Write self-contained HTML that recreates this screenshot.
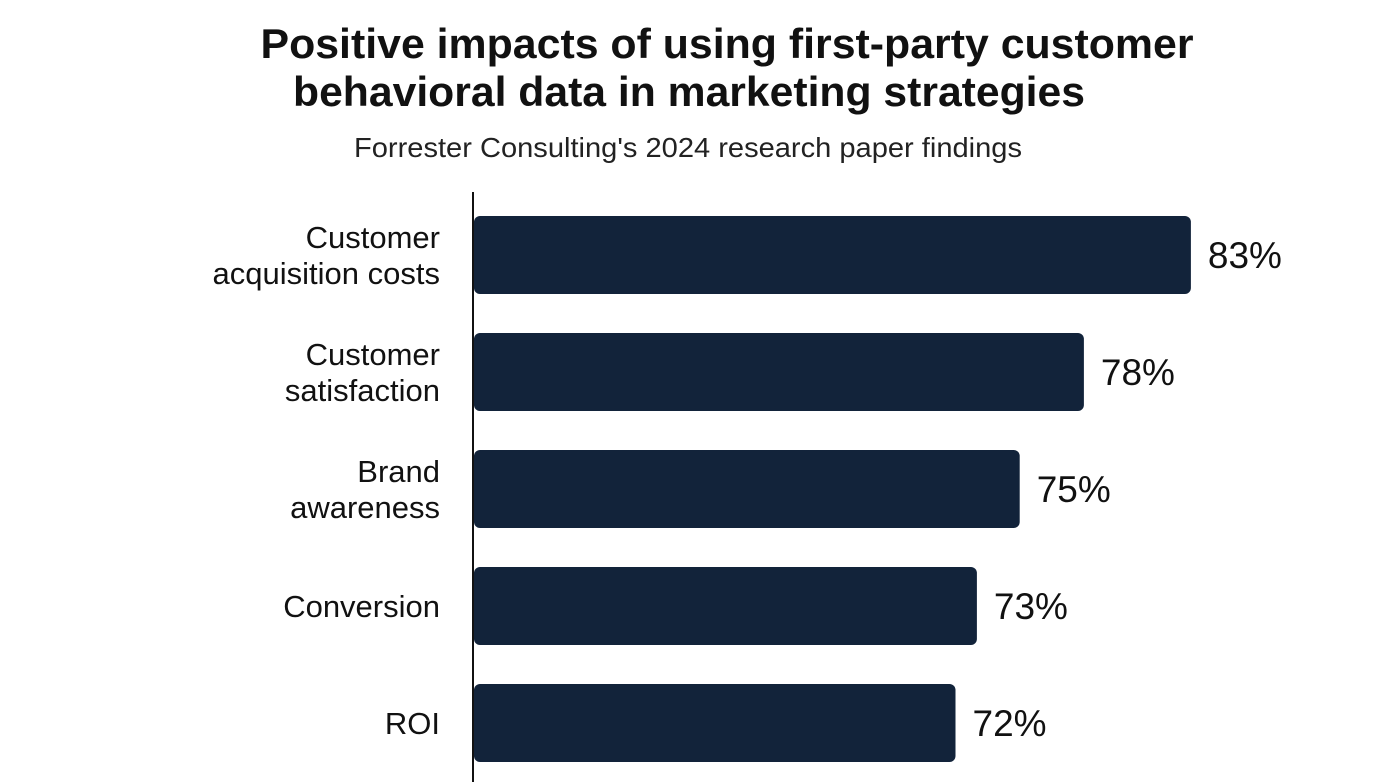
<!DOCTYPE html>
<html><head><meta charset="utf-8"><style>
body{margin:0;background:#fff;}
svg{display:block;font-family:"Liberation Sans",sans-serif;}
</style></head><body>
<svg id="chart" width="1390" height="782">
<text x="727" y="58" text-anchor="middle" font-size="42" font-weight="bold" fill="#111" textLength="933" lengthAdjust="spacingAndGlyphs">Positive impacts of using first-party customer</text>
<text x="689" y="106" text-anchor="middle" font-size="42" font-weight="bold" fill="#111" textLength="792" lengthAdjust="spacingAndGlyphs">behavioral data in marketing strategies</text>
<text x="688" y="157" text-anchor="middle" font-size="28" fill="#222" textLength="668" lengthAdjust="spacingAndGlyphs">Forrester Consulting's 2024 research paper findings</text>
<line x1="473" y1="192" x2="473" y2="782" stroke="#111" stroke-width="2"/>
<g id="bars"></g>
</svg>
<script>
const categories=[["Customer","acquisition costs"],["Customer","satisfaction"],["Brand","awareness"],["Conversion"],["ROI"]];
const values=[83,78,75,73,72];
const valueLabels=["83%","78%","75%","73%","72%"];
const x0=474, v0=49.5, pxPer=21.4;
function xScale(v){return x0+(v-v0)*pxPer;}
function yBand(i){return 216+i*117;}
const bandH=78;
const ns="http://www.w3.org/2000/svg";
const g=document.getElementById('bars');
values.forEach((v,i)=>{
  const y=yBand(i), xe=xScale(v);
  const r=document.createElementNS(ns,'rect');
  
  
  r.setAttribute('x',x0);r.setAttribute('y',y);r.setAttribute('width',xe-x0);r.setAttribute('height',bandH);
  r.setAttribute('rx',6);r.setAttribute('fill','#12233a');
  g.appendChild(r);
  const t=document.createElementNS(ns,'text');
  
  
  t.setAttribute('x',xe+17);t.setAttribute('y',y+bandH/2+13);
  t.setAttribute('font-size','37');t.setAttribute('fill','#111');
  t.textContent=valueLabels[i];
  g.appendChild(t);
  const lines=categories[i];
  const l=document.createElementNS(ns,'text');
  
  
  l.setAttribute('text-anchor','end');l.setAttribute('font-size','31');l.setAttribute('fill','#111');
  const cy=y+bandH/2;
  lines.forEach((s,k)=>{
    const ts=document.createElementNS(ns,'tspan');
    ts.setAttribute('x',440);
    ts.setAttribute('y',cy+11+(k-(lines.length-1)/2)*36);
    ts.textContent=s;l.appendChild(ts);
  });
  g.appendChild(l);
});
</script>
</body></html>
